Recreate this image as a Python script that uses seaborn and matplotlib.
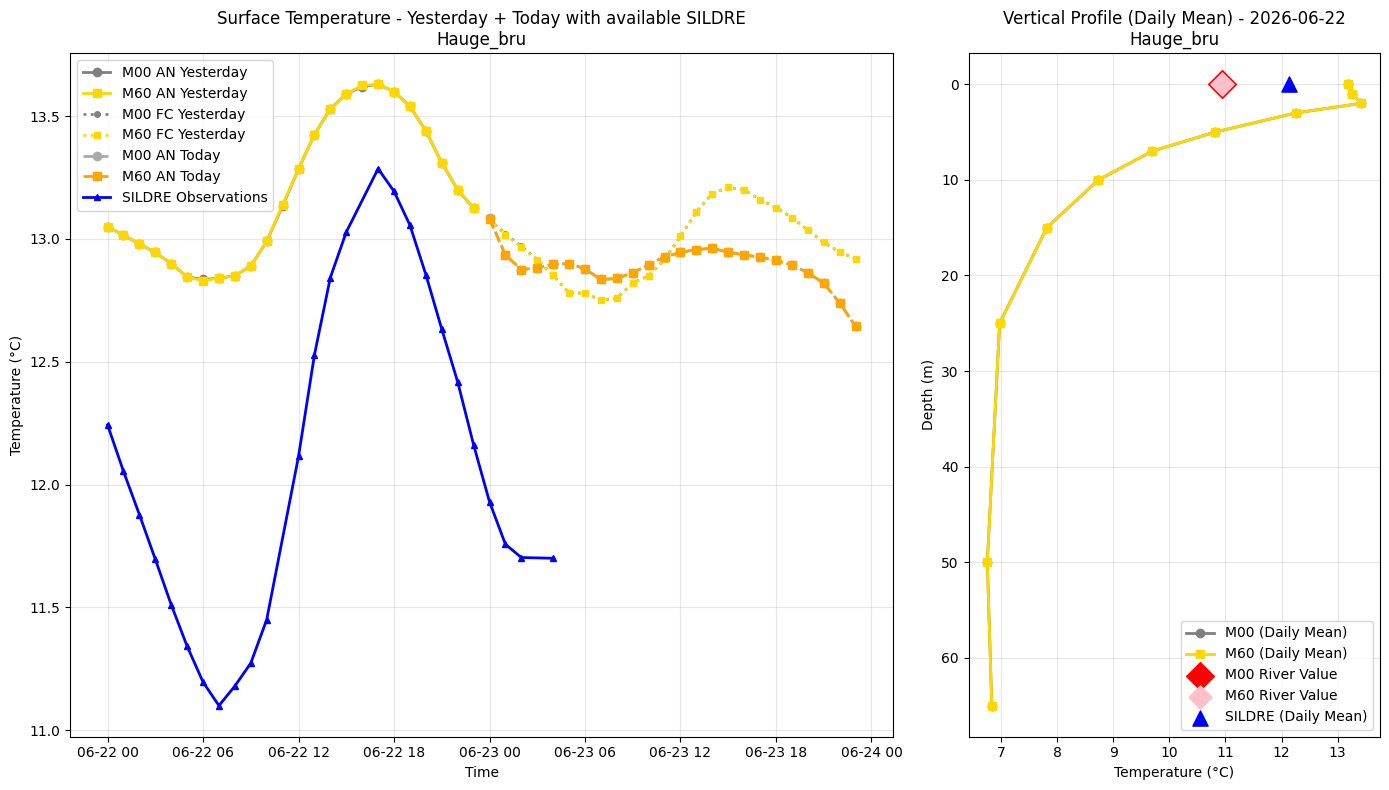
import pandas as pd
import numpy as np
import matplotlib
matplotlib.use("Agg")
import matplotlib.pyplot as plt
import matplotlib.dates as mdates
import seaborn as sns

station = "Hauge_bru"
day = "2026-06-22"

# surface temperature, hourly, yesterday analysis (06-22 00..23)
m00_an_yest = [13.05, 13.015, 12.98, 12.945, 12.90, 12.845, 12.835, 12.84, 12.85, 12.89,
               12.99, 13.135, 13.285, 13.425, 13.53, 13.59, 13.62, 13.63, 13.60, 13.54,
               13.44, 13.31, 13.20, 13.125]
m60_an_yest = [13.05, 13.015, 12.98, 12.945, 12.90, 12.845, 12.83, 12.84, 12.85, 12.89,
               12.99, 13.14, 13.285, 13.425, 13.53, 13.59, 13.625, 13.63, 13.60, 13.54,
               13.44, 13.31, 13.20, 13.125]
# yesterday forecast for 06-23 00..23
m00_fc_yest = [13.08, 13.02, 12.97, 12.915, 12.852, 12.78, 12.78, 12.75, 12.76, 12.82,
               12.85, 12.917, 13.01, 13.11, 13.185, 13.21, 13.20, 13.16, 13.128, 13.087,
               13.036, 12.987, 12.946, 12.92]
m60_fc_yest = [13.08, 13.017, 12.966, 12.915, 12.852, 12.78, 12.78, 12.75, 12.76, 12.82,
               12.85, 12.917, 13.01, 13.11, 13.185, 13.21, 13.20, 13.16, 13.128, 13.087,
               13.036, 12.987, 12.946, 12.92]
# today analysis for 06-23 00..23
m00_an_today = [13.085, 12.935, 12.875, 12.883, 12.896, 12.90, 12.878, 12.835, 12.839, 12.863,
                12.895, 12.927, 12.945, 12.957, 12.962, 12.946, 12.935, 12.926, 12.913, 12.894,
                12.863, 12.82, 12.74, 12.644]
m60_an_today = [13.08, 12.935, 12.875, 12.883, 12.896, 12.90, 12.878, 12.835, 12.839, 12.863,
                12.895, 12.927, 12.945, 12.957, 12.962, 12.946, 12.935, 12.926, 12.913, 12.894,
                12.863, 12.82, 12.74, 12.644]
# SILDRE observations (hours since 06-22 00, some missing)
sildre_hours = [0, 1, 2, 3, 4, 5, 6, 7, 8, 9, 10, 12, 13, 14, 15, 17, 18, 19, 20, 21,
                22, 23, 24, 25, 26, 28]
sildre_temp = [12.243, 12.054, 11.878, 11.696, 11.511, 11.342, 11.196, 11.10, 11.18, 11.273,
               11.45, 12.115, 12.528, 12.843, 13.028, 13.286, 13.194, 13.056, 12.855, 12.633,
               12.418, 12.162, 11.93, 11.757, 11.703, 11.70]

# vertical profile (daily mean)
depths = [0, 1, 2, 3, 5, 7, 10, 15, 25, 50, 65]
m00_profile = [13.19, 13.26, 13.42, 12.26, 10.82, 9.70, 8.74, 7.82, 6.98, 6.76, 6.84]
m60_profile = [13.19, 13.26, 13.42, 12.26, 10.82, 9.70, 8.74, 7.82, 6.98, 6.76, 6.84]
m00_river = 10.94
m60_river = 10.94
sildre_mean = 12.13

t_yest = pd.date_range(day + " 00:00", periods=24, freq="h")
t_today = pd.date_range("2026-06-23 00:00", periods=24, freq="h")
t_sildre = pd.Timestamp(day) + pd.to_timedelta(sildre_hours, unit="h")

fig, (ax1, ax2) = plt.subplots(1, 2, figsize=(14, 8), gridspec_kw={"width_ratios": [2, 1]})

def line(ax, x, y, color, marker, ls, label, ms=6, lw=2):
    sns.lineplot(x=x, y=y, ax=ax, color=color, marker=marker, linestyle=ls, label=label,
                 markersize=ms, linewidth=lw, markeredgecolor=color, markeredgewidth=1, sort=False)

line(ax1, t_yest, m00_an_yest, "gray", "o", "-", "M00 AN Yesterday")
line(ax1, t_yest, m60_an_yest, "gold", "s", "-", "M60 AN Yesterday")
line(ax1, t_today, m00_fc_yest, "gray", "o", ":", "M00 FC Yesterday", ms=4)
line(ax1, t_today, m60_fc_yest, "gold", "s", ":", "M60 FC Yesterday", ms=4)
line(ax1, t_today, m00_an_today, "darkgray", "o", "--", "M00 AN Today")
line(ax1, t_today, m60_an_today, "orange", "s", "--", "M60 AN Today")
line(ax1, t_sildre, sildre_temp, "blue", "^", "-", "SILDRE Observations", ms=5)

ax1.set_title("Surface Temperature - Yesterday + Today with available SILDRE\n" + station)
ax1.set_xlabel("Time")
ax1.set_ylabel("Temperature (°C)")
ax1.grid(True, alpha=0.3)
ax1.xaxis.set_major_locator(mdates.HourLocator(byhour=[0, 6, 12, 18]))
ax1.xaxis.set_major_formatter(mdates.DateFormatter("%m-%d %H"))
ax1.legend(loc="upper left")

line(ax2, m00_profile, depths, "gray", "o", "-", "M00 (Daily Mean)")
line(ax2, m60_profile, depths, "gold", "s", "-", "M60 (Daily Mean)")
ax2.scatter([m00_river], [0], color="red", marker="D", s=200, zorder=5, label="M00 River Value")
ax2.scatter([m60_river], [0], color="pink", marker="D", s=140, zorder=6, label="M60 River Value")
ax2.scatter([sildre_mean], [0], color="blue", marker="^", s=120, zorder=6, label="SILDRE (Daily Mean)")
ax2.invert_yaxis()
ax2.set_title("Vertical Profile (Daily Mean) - " + day + "\n" + station)
ax2.set_xlabel("Temperature (°C)")
ax2.set_ylabel("Depth (m)")
ax2.grid(True, alpha=0.3)
ax2.legend(loc="lower right")

plt.tight_layout()
plt.savefig("out.png", dpi=100, bbox_inches="tight")
